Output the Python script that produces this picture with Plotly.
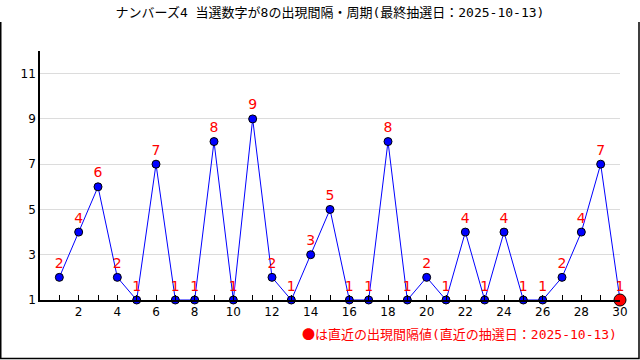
import plotly.graph_objects as go

draws = list(range(1, 31))
intervals = [2, 4, 6, 2, 1, 7, 1, 1, 8, 1, 9, 2, 1, 3, 5, 1, 1, 8, 1, 2,
             1, 4, 1, 4, 1, 1, 2, 4, 7, 1]
x_tick_vals = list(range(2, 31, 2))
y_tick_vals = [1, 3, 5, 7, 9, 11]
title_text = "ナンバーズ4 当選数字が8の出現間隔・周期(最終抽選日：2025-10-13)"
note_mark = "●"
note_text = "は直近の出現間隔値(直近の抽選日：2025-10-13)"

FONT = "DejaVu Sans Mono, Noto Sans CJK JP"

fig = go.Figure()
fig.add_trace(go.Scatter(
    x=draws, y=intervals, mode="lines+markers+text",
    text=[str(v) for v in intervals], textposition="top center",
    textfont=dict(color="#ff0000", size=14, family="DejaVu Sans"),
    line=dict(color="#0000ff", width=1),
    marker=dict(color="#0000ff", size=8, line=dict(color="#000000", width=1)),
    cliponaxis=False, showlegend=False, hoverinfo="x+y",
))
fig.add_trace(go.Scatter(
    x=draws[-1:], y=intervals[-1:], mode="markers",
    marker=dict(color="#ff0000", size=12, line=dict(color="#000000", width=1)),
    cliponaxis=False, showlegend=False,
))

# border (left, bottom, right), in paper coordinates derived from the margins
W, H = 580.0, 249.0
x0 = (0.75 - 40) / W
x1 = (639.0 - 40) / W
yb = (300 - 358.5) / H
yt = (300 - 22) / H
fig.add_shape(type="path", xref="paper", yref="paper",
              path=f"M {x0},{yt} L {x0},{yb} L {x1},{yb} L {x1},{yt}",
              line=dict(color="#000000", width=1.5))

fig.add_annotation(
    text=f'<span style="font-family:Noto Sans CJK JP">{note_mark}</span>{note_text}',
    xref="paper", yref="paper",
    x=(619 - 40) / W, y=(300 - 333) / H,
    xanchor="right", yanchor="middle", showarrow=False,
    font=dict(color="#ff0000", size=13, family=FONT))

fig.update_layout(
    width=640, height=360,
    margin=dict(l=40, r=20, t=51, b=60),
    paper_bgcolor="white", plot_bgcolor="white",
    title=dict(text=title_text, x=0.5, xanchor="center", xref="paper",
               y=1 - 12 / 360, yanchor="middle",
               font=dict(size=13, color="#000000", family=FONT)),
    xaxis=dict(range=[0, 30], tickvals=x_tick_vals, ticks="inside", ticklen=5,
               tickcolor="#000000", showgrid=False, zeroline=False,
               showline=True, linecolor="#000000", linewidth=1.5,
               minor=dict(dtick=1, ticks="inside", ticklen=5, tickcolor="#000000", showgrid=False),
               tickfont=dict(size=12, color="#000000", family="DejaVu Sans")),
    yaxis=dict(range=[1, 12], tickvals=y_tick_vals, ticks="", showgrid=True,
               gridcolor="#dcdcdc", gridwidth=1, zeroline=False,
               showline=True, linecolor="#000000", linewidth=1.5,
               tickfont=dict(size=12, color="#000000", family="DejaVu Sans")),
)

fig.write_html("out.html", config={"displayModeBar": False},
               post_script="document.body.style.margin='0';document.body.style.padding='0';")
